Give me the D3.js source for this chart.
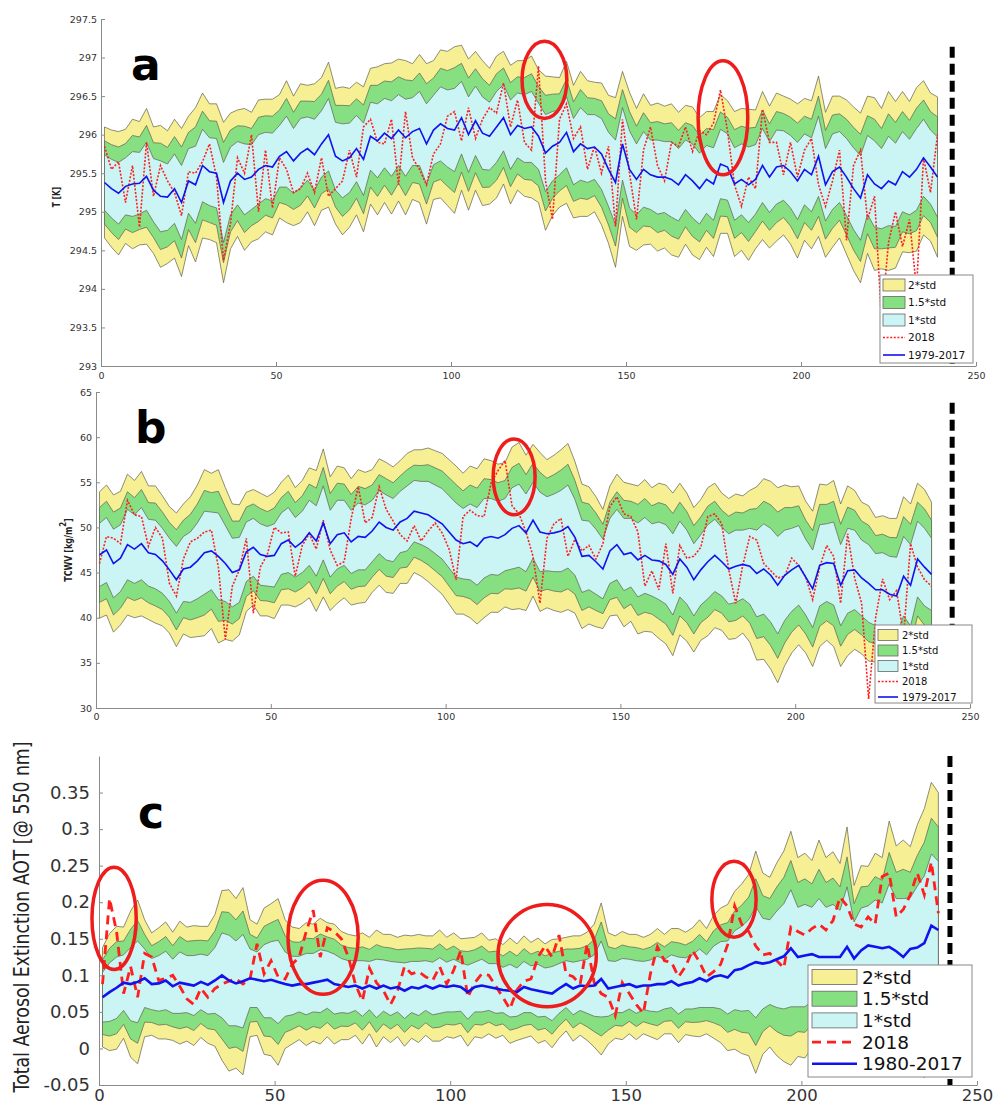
<!DOCTYPE html>
<html>
<head>
<meta charset="utf-8">
<script src="https://cdn.jsdelivr.net/npm/d3@7"></script>
<style>
  body { margin: 0; background: #fff; }
  svg text { font-family: "DejaVu Sans", sans-serif; }
</style>
</head>
<body>
<div id="chart"></div>
<script>
// every second day of the season, day 1 .. 239
var days = d3.range(1, 241, 2);
var xTicks = [0, 50, 100, 150, 200, 250];

// panel a : temperature
var tempTicks = [293, 293.5, 294, 294.5, 295, 295.5, 296, 296.5, 297, 297.5];
var tempMean = [
  295.38,295.30,295.24,295.33,295.36,295.37, 295.46,295.28,295.20,295.19,295.30,295.12,
  295.40,295.35,295.60,295.52,295.50,295.12, 295.40,295.50,295.42,295.45,295.55,295.60,
  295.58,295.72,295.78,295.66,295.76,295.82, 295.74,295.88,296.00,295.72,295.66,295.70,
  295.82,295.68,295.98,295.92,296.02,295.95, 296.06,295.96,296.04,296.08,295.88,296.06,
  296.14,296.08,296.06,296.22,296.00,296.18, 296.02,295.98,296.10,296.22,296.00,296.12,
  296.08,296.10,295.98,295.76,295.85,295.90, 296.03,295.78,295.88,295.82,295.84,295.75,
  295.55,295.38,295.88,295.55,295.42,295.55, 295.48,295.45,295.45,295.42,295.35,295.48,
  295.40,295.30,295.42,295.36,295.62,295.58, 295.36,295.42,295.35,295.42,295.60,295.45,
  295.58,295.60,295.52,295.40,295.55,295.48, 295.72,295.35,295.52,295.58,295.45,295.30,
  295.18,295.48,295.36,295.30,295.40,295.35, 295.52,295.45,295.55,295.70,295.58,295.45
];
var tempStd = [
  0.36,0.38,0.40,0.37,0.42,0.40, 0.44,0.41,0.46,0.43,0.45,0.48,
  0.42,0.50,0.47,0.44,0.45,0.52, 0.44,0.41,0.46,0.42,0.45,0.43,
  0.44,0.40,0.46,0.42,0.45,0.41, 0.46,0.43,0.47,0.44,0.48,0.45,
  0.43,0.47,0.44,0.48,0.45,0.49, 0.46,0.50,0.44,0.48,0.52,0.45,
  0.48,0.50,0.54,0.47,0.49,0.45, 0.47,0.44,0.46,0.43,0.45,0.42,
  0.44,0.46,0.43,0.50,0.45,0.42, 0.46,0.43,0.47,0.44,0.42,0.46,
  0.48,0.55,0.47,0.50,0.46,0.49, 0.45,0.48,0.46,0.49,0.47,0.45,
  0.48,0.46,0.44,0.47,0.45,0.43, 0.47,0.46,0.49,0.45,0.48,0.46,
  0.48,0.45,0.47,0.50,0.46,0.48, 0.52,0.47,0.49,0.46,0.50,0.53,
  0.55,0.51,0.56,0.52,0.58,0.54, 0.52,0.49,0.53,0.50,0.48,0.52
];
var temp2018 = [
  295.85,295.55,295.65,295.12,295.60,294.80, 295.90,295.20,295.60,295.40,295.25,294.95,
  295.52,295.50,295.65,295.88,295.45,294.37, 294.85,295.70,295.50,296.00,295.00,295.80,
  295.05,295.70,295.55,295.25,295.30,295.50, 295.25,295.70,295.20,295.30,295.40,295.80,
  295.45,296.10,296.20,295.90,295.88,296.20, 295.35,296.30,295.70,295.55,295.35,295.75,
  295.88,296.24,296.30,295.92,296.35,295.95, 296.20,296.35,296.28,296.67,296.10,296.45,
  295.90,295.80,296.89,295.40,294.90,296.20, 296.40,295.95,296.10,295.55,295.85,295.50,
  295.85,294.81,296.20,295.50,294.90,295.80, 296.10,295.60,295.40,295.90,295.85,296.10,
  295.78,296.05,296.00,296.15,296.58,296.05, 295.35,295.07,295.45,295.30,296.33,295.90,
  295.90,295.48,295.90,295.45,295.80,295.95, 295.35,295.07,295.40,295.80,294.63,295.60,
  295.80,294.90,295.20,293.60,294.60,295.00, 294.55,294.90,294.00,295.70,295.25,296.00
];

// panel b : total column water vapour
var tcwvTicks = [30, 35, 40, 45, 50, 55, 60, 65];
var tcwvMean = [
  46.95,47.5,46.0,46.6,48.1,47.6, 48.2,47.2,47.0,46.3,45.3,44.2,
  45.4,45.6,46.3,47.2,47.4,46.8, 46.0,45.0,45.3,47.3,47.8,47.0,
  46.8,46.9,48.2,48.6,47.8,48.4, 49.4,48.5,50.5,48.2,49.2,49.4,
  48.4,49.0,48.9,49.6,50.6,50.0, 49.7,50.6,51.0,51.8,51.6,51.4,
  50.9,50.4,49.5,48.6,48.2,48.4, 47.9,48.8,49.0,48.8,49.2,49.9,
  50.2,49.4,50.8,49.5,49.3,49.4, 49.6,50.1,48.9,46.8,46.9,46.2,
  45.4,47.4,48.1,47.0,47.2,46.4, 46.9,46.4,46.3,45.9,44.8,46.5,
  45.6,44.2,45.3,46.2,46.9,46.2, 45.4,45.7,45.9,45.7,44.9,45.4,
  44.7,43.6,44.7,45.3,45.8,44.5, 43.2,45.8,46.1,46.0,43.6,45.2,
  45.3,44.4,43.8,43.1,43.1,42.6, 42.4,44.6,43.6,46.5,45.6,44.8
];
var tcwvStd = [
  3.5,3.6,3.8,3.7,3.9,3.8, 4.0,3.7,3.8,3.6,3.5,3.7,
  3.6,3.9,4.2,4.6,4.3,4.8, 4.2,3.8,3.6,3.3,3.2,3.4,
  3.3,3.5,3.4,3.6,3.3,3.4, 3.6,3.9,4.1,3.7,3.8,3.6,
  3.5,3.7,3.6,3.4,3.5,3.6, 3.5,3.4,3.6,3.4,3.5,3.7,
  3.8,3.9,4.0,4.1,3.9,4.2, 4.3,4.4,4.2,4.1,4.0,4.5,
  4.6,4.3,4.2,4.4,4.1,4.3, 4.5,4.6,4.2,4.0,3.8,3.6,
  3.3,3.6,3.9,4.0,3.8,4.1, 4.2,4.0,4.3,4.4,4.5,4.2,
  4.1,4.0,3.9,4.1,4.0,3.8, 3.9,4.0,3.8,4.2,4.8,5.0,
  5.2,5.4,5.0,4.6,4.4,4.2, 4.3,4.5,4.3,4.6,4.5,4.7,
  4.4,4.2,4.3,4.0,4.1,4.2, 4.3,4.4,4.5,4.2,4.3,4.0
];
var tcwv2018 = [
  46.0,49.0,48.8,48.2,53.0,51.4, 51.2,47.9,50.0,48.8,43.8,42.4,
  46.5,48.4,48.8,49.5,49.7,45.6, 37.6,43.5,45.3,48.8,40.5,45.6,
  47.0,50.0,49.4,49.5,44.6,48.0, 49.3,47.6,50.8,47.5,45.8,46.2,
  51.0,54.5,50.5,51.1,54.5,52.0, 50.7,49.2,48.5,50.2,48.5,49.6,
  50.5,49.4,47.6,44.2,51.2,51.9, 51.3,51.2,54.9,56.3,57.4,52.4,
  51.5,49.5,46.8,41.6,48.8,50.4, 51.0,46.8,48.7,47.4,48.0,46.5,
  48.2,52.3,53.4,51.5,51.2,49.5, 43.5,45.2,43.1,48.2,42.7,48.0,
  46.6,46.8,47.8,51.2,51.5,50.4, 45.3,41.6,45.8,49.0,48.6,46.0,
  45.2,44.4,44.6,46.6,45.8,44.5, 42.0,45.6,48.0,46.8,41.6,49.3,
  44.4,41.6,31.0,40.0,44.3,42.0, 43.0,38.0,48.2,45.6,44.2,43.5
];

// panel c : aerosol optical thickness at 550 nm
var aotTicks = [-0.05, 0, 0.05, 0.1, 0.15, 0.2, 0.25, 0.3, 0.35];
var aotMean = [
  0.070,0.077,0.083,0.090,0.088,0.091, 0.096,0.088,0.089,0.093,0.085,0.090,
  0.088,0.086,0.091,0.087,0.093,0.100, 0.093,0.089,0.092,0.096,0.094,0.092,
  0.094,0.091,0.088,0.086,0.088,0.088, 0.090,0.092,0.094,0.088,0.086,0.084,
  0.086,0.082,0.086,0.082,0.086,0.082, 0.084,0.079,0.084,0.082,0.086,0.082,
  0.086,0.084,0.086,0.084,0.077,0.084, 0.086,0.084,0.082,0.080,0.079,0.077,
  0.084,0.081,0.079,0.077,0.075,0.082, 0.088,0.082,0.086,0.085,0.086,0.095,
  0.082,0.084,0.086,0.088,0.084,0.086, 0.086,0.088,0.088,0.092,0.086,0.089,
  0.091,0.096,0.092,0.098,0.100,0.097, 0.107,0.109,0.114,0.118,0.116,0.118,
  0.122,0.126,0.137,0.125,0.127,0.129, 0.125,0.125,0.125,0.125,0.139,0.123,
  0.134,0.141,0.139,0.137,0.139,0.133, 0.125,0.136,0.138,0.144,0.168,0.162
];
var aotStd = [
  0.034,0.040,0.042,0.038,0.050,0.056, 0.040,0.035,0.038,0.040,0.037,0.042,
  0.039,0.041,0.038,0.040,0.045,0.058, 0.062,0.058,0.064,0.040,0.038,0.050,
  0.052,0.057,0.044,0.040,0.038,0.042, 0.040,0.043,0.039,0.041,0.037,0.036,
  0.034,0.038,0.033,0.040,0.035,0.037, 0.034,0.038,0.035,0.037,0.034,0.036,
  0.038,0.034,0.036,0.033,0.037,0.034, 0.036,0.032,0.034,0.031,0.036,0.033,
  0.035,0.032,0.036,0.033,0.037,0.034, 0.032,0.036,0.034,0.037,0.042,0.052,
  0.038,0.035,0.037,0.034,0.036,0.033, 0.035,0.038,0.034,0.036,0.039,0.035,
  0.037,0.040,0.036,0.042,0.046,0.050, 0.054,0.058,0.062,0.076,0.062,0.058,
  0.066,0.072,0.080,0.068,0.070,0.064, 0.080,0.068,0.072,0.064,0.082,0.050,
  0.058,0.054,0.064,0.062,0.086,0.072, 0.080,0.070,0.084,0.092,0.098,0.094
];
var aot2018 = [
  0.088,0.205,0.160,0.075,0.112,0.070, 0.130,0.125,0.093,0.096,0.100,0.085,
  0.068,0.060,0.082,0.070,0.082,0.088, 0.092,0.095,0.088,0.095,0.143,0.102,
  0.120,0.098,0.095,0.115,0.125,0.160, 0.189,0.125,0.165,0.160,0.150,0.125,
  0.088,0.065,0.110,0.090,0.079,0.060, 0.079,0.112,0.102,0.105,0.098,0.093,
  0.112,0.088,0.107,0.134,0.070,0.090, 0.102,0.100,0.085,0.070,0.054,0.080,
  0.092,0.095,0.125,0.140,0.125,0.155, 0.102,0.098,0.088,0.143,0.090,0.075,
  0.070,0.045,0.090,0.075,0.060,0.048, 0.102,0.139,0.120,0.118,0.098,0.112,
  0.134,0.118,0.098,0.105,0.115,0.142, 0.195,0.170,0.160,0.140,0.128,0.130,
  0.120,0.110,0.166,0.160,0.155,0.164, 0.170,0.162,0.175,0.207,0.195,0.170,
  0.166,0.180,0.170,0.235,0.240,0.180, 0.190,0.210,0.240,0.210,0.255,0.185
];

var bandLabels = ["2*std", "1.5*std", "1*std"];
var bandFactors = [2, 1.5, 1];
var bandColors = ["#f6ef94", "#86df80", "#cbf4f4"];
var edgeColor = "#5e5e50";
var red = "#ff1f1f", blue = "#1212ee";

var svg = d3.select("#chart").append("svg")
  .attr("width", 997)
  .attr("height", 1108);

function fmt(d) { return String(+d.toFixed(2)); }

function drawPanel(p) {
  var x = d3.scaleLinear().domain([0, 250]).range([p.left, p.right]);
  var y = d3.scaleLinear().domain(p.yDomain).range([p.bottom, p.top]);
  var g = svg.append("g");

  var rows = days.map(function(d, i) {
    return { day: d, mean: p.mean[i], std: p.std[i], obs: p.obs[i] };
  });

  // std envelopes, widest first
  bandFactors.forEach(function(k, j) {
    var area = d3.area()
      .x(function(d) { return x(d.day); })
      .y0(function(d) { return y(d.mean - k * d.std); })
      .y1(function(d) { return y(d.mean + k * d.std); });
    g.append("path")
      .attr("d", area(rows))
      .attr("fill", bandColors[j])
      .attr("stroke", edgeColor)
      .attr("stroke-width", 0.7);
  });

  var obsLine = d3.line()
    .x(function(d) { return x(d.day); })
    .y(function(d) { return y(d.obs); });
  var meanLine = d3.line()
    .x(function(d) { return x(d.day); })
    .y(function(d) { return y(d.mean); });

  g.append("path")
    .attr("d", obsLine(rows))
    .attr("fill", "none")
    .attr("stroke", red)
    .attr("stroke-width", p.redWidth)
    .attr("stroke-dasharray", p.redDash);

  g.append("path")
    .attr("d", meanLine(rows))
    .attr("fill", "none")
    .attr("stroke", blue)
    .attr("stroke-width", p.blueWidth);

  // axes (ticks point inwards, no box)
  var yAxis = d3.axisLeft(y).tickValues(p.yTicks).tickFormat(fmt)
    .tickSizeInner(-4).tickSizeOuter(0).tickPadding(p.yPad);
  var xAxis = d3.axisBottom(x).tickValues(xTicks)
    .tickSizeInner(-4).tickSizeOuter(0).tickPadding(p.xPad);

  var ay = g.append("g").attr("transform", "translate(" + p.left + ",0)").call(yAxis)
    .attr("font-size", p.tickFont);
  var ax = g.append("g").attr("transform", "translate(0," + p.bottom + ")").call(xAxis)
    .attr("font-size", p.xTickFont);
  [ay, ax].forEach(function(a) {
    a.attr("font-family", "DejaVu Sans");
    a.select(".domain").attr("stroke", "#8a8a8a");
    a.selectAll(".tick line").attr("stroke", "#8a8a8a");
    a.selectAll(".tick text").attr("fill", "#333");
  });

  // red circles on the 2018 anomalies
  p.circles.forEach(function(c) {
    g.append("ellipse")
      .attr("cx", x(c.day))
      .attr("cy", y(c.val))
      .attr("rx", x(c.day + c.dd) - x(c.day))
      .attr("ry", y(c.val - c.dv) - y(c.val))
      .attr("fill", "none")
      .attr("stroke", "#ee1c1c")
      .attr("stroke-width", 3.5);
  });

  // end of the 2018 record
  g.append("line")
    .attr("x1", x(p.cutDay)).attr("x2", x(p.cutDay))
    .attr("y1", y(p.cutTop)).attr("y2", p.bottom)
    .attr("stroke", "#000")
    .attr("stroke-width", 5)
    .attr("stroke-dasharray", "11,6");

  // legend
  var L = p.legend;
  var lg = g.append("g").attr("transform", "translate(" + L.x + "," + L.y + ")");
  lg.append("rect")
    .attr("width", L.w).attr("height", L.h)
    .attr("fill", "#fff").attr("stroke", "#888").attr("stroke-width", 1);
  var labels = bandLabels.concat(["2018", p.meanLabel]);
  labels.forEach(function(lab, i) {
    var cy = L.first + i * L.step;
    if (i < 3) {
      lg.append("rect")
        .attr("x", L.pad).attr("y", cy - L.ph / 2)
        .attr("width", L.pw).attr("height", L.ph)
        .attr("fill", bandColors[i]).attr("stroke", "#666").attr("stroke-width", 0.8);
    } else {
      lg.append("line")
        .attr("x1", L.pad).attr("x2", L.pad + L.pw)
        .attr("y1", cy).attr("y2", cy)
        .attr("stroke", i === 3 ? red : blue)
        .attr("stroke-width", i === 3 ? p.redWidth : p.blueWidth)
        .attr("stroke-dasharray", i === 3 ? p.redDash : null);
    }
    lg.append("text")
      .attr("x", L.pad + L.pw + L.gap).attr("y", cy)
      .attr("dy", "0.36em")
      .attr("font-size", L.font)
      .attr("fill", "#111")
      .text(lab);
  });

  // panel letter
  g.append("text")
    .attr("x", p.letter.x).attr("y", p.letter.y)
    .attr("font-family", "Open Sans")
    .attr("font-weight", "bold")
    .attr("font-size", 44)
    .attr("fill", "#000")
    .text(p.letter.t);

  return g;
}

var gA = drawPanel({
  left: 101, right: 976, top: 19, bottom: 366, yDomain: [293, 297.5], yTicks: tempTicks,
  mean: tempMean, std: tempStd, obs: temp2018,
  redWidth: 1.6, redDash: "2,1.6", blueWidth: 1.6,
  tickFont: 9.5, xTickFont: 9.5, yPad: 4, xPad: 6,
  circles: [{ day: 126.7, val: 296.71, dd: 6.4, dv: 0.5 }, { day: 177.7, val: 296.22, dd: 7.1, dv: 0.74 }],
  cutDay: 243.2, cutTop: 297.14,
  legend: { x: 880, y: 275, w: 93, h: 88, first: 10, step: 17.5, pad: 3, pw: 22, ph: 12, gap: 3, font: 10.5 },
  meanLabel: "1979-2017",
  letter: { x: 131, y: 80, t: "a" }
});
gA.append("text")
  .attr("transform", "translate(60,197) scale(1.35,1) rotate(-90)")
  .attr("text-anchor", "middle")
  .attr("font-size", 7.5).attr("font-weight", "bold").attr("fill", "#222")
  .text("T [K]");

var gB = drawPanel({
  left: 96, right: 970, top: 392, bottom: 708, yDomain: [30, 65], yTicks: tcwvTicks,
  mean: tcwvMean, std: tcwvStd, obs: tcwv2018,
  redWidth: 1.6, redDash: "2,1.6", blueWidth: 1.6,
  tickFont: 9.5, xTickFont: 9.5, yPad: 4, xPad: 5,
  circles: [{ day: 119.6, val: 55.6, dd: 6, dv: 4.2 }],
  cutDay: 244.9, cutTop: 63.8,
  legend: { x: 875, y: 625, w: 97, h: 78, first: 10, step: 15.5, pad: 3, pw: 20, ph: 11, gap: 4, font: 10 },
  meanLabel: "1979-2017",
  letter: { x: 135, y: 443, t: "b" }
});
var lb = gB.append("text")
  .attr("transform", "translate(72,550) scale(1.3,1) rotate(-90)")
  .attr("text-anchor", "middle")
  .attr("font-size", 8).attr("font-weight", "bold").attr("fill", "#222");
lb.append("tspan").text("TCWV [kg/m");
lb.append("tspan").attr("dy", -5).attr("font-size", 7).text("2");
lb.append("tspan").attr("dy", 5).text("]");

var gC = drawPanel({
  left: 99, right: 977, top: 756, bottom: 1085, yDomain: [-0.05, 0.4], yTicks: aotTicks,
  mean: aotMean, std: aotStd, obs: aot2018,
  redWidth: 2.8, redDash: "9,6", blueWidth: 2.6,
  tickFont: 18, xTickFont: 16.5, yPad: 9, xPad: 4,
  circles: [
    { day: 4.3, val: 0.178, dd: 6.3, dv: 0.07 },
    { day: 63.8, val: 0.152, dd: 10, dv: 0.078 },
    { day: 127.6, val: 0.127, dd: 14, dv: 0.07 },
    { day: 180.8, val: 0.204, dd: 6.3, dv: 0.052 }
  ],
  cutDay: 242.3, cutTop: 0.4,
  legend: { x: 808, y: 965, w: 164, h: 112, first: 12, step: 21.7, pad: 4, pw: 45, ph: 15, gap: 5, font: 18.5 },
  meanLabel: "1980-2017",
  letter: { x: 138, y: 828, t: "c" }
});
gC.append("text")
  .attr("transform", "translate(29,917) scale(1.25,1) rotate(-90)")
  .attr("text-anchor", "middle")
  .attr("font-family", "Liberation Sans")
  .attr("font-size", 17.3).attr("fill", "#222")
  .text("Total Aerosol Extinction AOT [@ 550 nm]");
</script>
</body>
</html>
